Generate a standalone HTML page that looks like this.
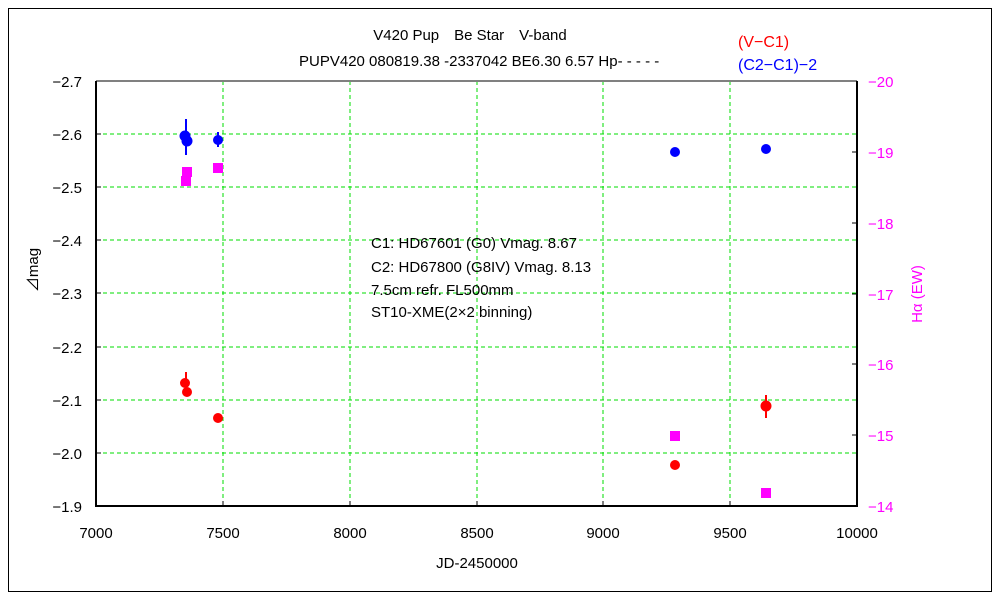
<!DOCTYPE html>
<html><head><style>
body{margin:0;background:#fff;}
svg text{font-family:"Liberation Sans","Noto Sans CJK JP",sans-serif;}
</style></head><body>
<svg width="1000" height="600" xmlns="http://www.w3.org/2000/svg">
<rect x="0" y="0" width="1000" height="600" fill="#fff"/>
<rect x="8.5" y="8.5" width="983" height="583" fill="none" stroke="#000" stroke-width="1"/>
<g stroke="#00dd00" stroke-dasharray="4,3" stroke-width="1">
<line x1="223" y1="81" x2="223" y2="506"/><line x1="350" y1="81" x2="350" y2="506"/>
<line x1="477" y1="81" x2="477" y2="506"/><line x1="603" y1="81" x2="603" y2="506"/>
<line x1="730" y1="81" x2="730" y2="506"/>
<line x1="96" y1="134" x2="857" y2="134"/><line x1="96" y1="187" x2="857" y2="187"/>
<line x1="96" y1="240" x2="857" y2="240"/><line x1="96" y1="293" x2="857" y2="293"/>
<line x1="96" y1="347" x2="857" y2="347"/><line x1="96" y1="400" x2="857" y2="400"/>
<line x1="96" y1="453" x2="857" y2="453"/>
</g>
<line x1="96" y1="81" x2="857" y2="81" stroke="#808080" stroke-width="2"/>
<g stroke="#000" stroke-width="2" fill="none">
<polyline points="96,81 96,506 857,506 857,81"/>
</g>
<g stroke="#000" stroke-width="1">
<line x1="96" y1="134" x2="101" y2="134"/><line x1="96" y1="187" x2="101" y2="187"/><line x1="96" y1="240" x2="101" y2="240"/><line x1="96" y1="293" x2="101" y2="293"/><line x1="96" y1="347" x2="101" y2="347"/><line x1="96" y1="400" x2="101" y2="400"/><line x1="96" y1="453" x2="101" y2="453"/>
<line x1="852" y1="152" x2="857" y2="152"/><line x1="852" y1="223" x2="857" y2="223"/><line x1="852" y1="294" x2="857" y2="294"/><line x1="852" y1="364" x2="857" y2="364"/><line x1="852" y1="435" x2="857" y2="435"/>
<line x1="223" y1="506" x2="223" y2="501"/><line x1="350" y1="506" x2="350" y2="501"/><line x1="477" y1="506" x2="477" y2="501"/><line x1="603" y1="506" x2="603" y2="501"/><line x1="730" y1="506" x2="730" y2="501"/>
</g>
<g font-size="15" fill="#000" text-anchor="end">
<text x="82" y="87">−2.7</text><text x="82" y="140">−2.6</text><text x="82" y="193">−2.5</text><text x="82" y="246">−2.4</text><text x="82" y="299">−2.3</text><text x="82" y="353">−2.2</text><text x="82" y="406">−2.1</text><text x="82" y="459">−2.0</text><text x="82" y="512">−1.9</text>
</g>
<g font-size="15" fill="#000" text-anchor="middle">
<text x="96" y="538">7000</text><text x="223" y="538">7500</text><text x="350" y="538">8000</text><text x="477" y="538">8500</text><text x="603" y="538">9000</text><text x="730" y="538">9500</text><text x="857" y="538">10000</text>
<text x="477" y="568">JD-2450000</text>
</g>
<g font-size="15" fill="#ff00ff">
<text x="868" y="87">−20</text><text x="868" y="158">−19</text><text x="868" y="229">−18</text><text x="868" y="300">−17</text><text x="868" y="370">−16</text><text x="868" y="441">−15</text><text x="868" y="512">−14</text>
<text transform="translate(922,294) rotate(-90)" text-anchor="middle">Hα (EW)</text>
</g>
<text transform="translate(38,270) rotate(-90)" font-size="15" text-anchor="middle">⊿mag</text>
<text x="470" y="40" font-size="15" text-anchor="middle">V420 Pup　Be Star　V-band</text>
<text x="299" y="66" font-size="15">PUPV420 080819.38 -2337042 BE6.30 6.57 Hp- - - - -</text>
<text x="738" y="47" font-size="16" fill="#ff0000">(V−C1)</text>
<text x="738" y="70" font-size="16" fill="#0000ff">(C2−C1)−2</text>
<g font-size="15">
<text x="371" y="248">C1: HD67601 (G0) Vmag. 8.67</text>
<text x="371" y="272">C2: HD67800 (G8IV) Vmag. 8.13</text>
<text x="371" y="295">7.5cm refr. FL500mm</text>
<text x="371" y="317">ST10-XME(2×2 binning)</text>
</g>
<g fill="#ff00ff">
<rect x="181" y="176" width="10" height="10"/><rect x="182" y="167" width="10" height="10"/><rect x="213" y="163" width="10" height="10"/><rect x="670" y="431" width="10" height="10"/><rect x="761" y="488" width="10" height="10"/>
</g>
<g fill="#0000ff" stroke="#0000ff" stroke-width="2">
<line x1="186" y1="119" x2="186" y2="155"/><line x1="218" y1="132" x2="218" y2="147"/>
<circle cx="185" cy="136" r="4.5"/><circle cx="187" cy="141" r="4.5"/><circle cx="218" cy="140" r="4"/><circle cx="675" cy="152" r="4"/><circle cx="766" cy="149" r="4"/>
</g>
<g fill="#ff0000" stroke="#ff0000" stroke-width="2">
<line x1="186" y1="372" x2="186" y2="392"/><line x1="766" y1="395" x2="766" y2="418"/>
<circle cx="185" cy="383" r="4"/><circle cx="187" cy="392" r="4"/><circle cx="218" cy="418" r="4"/><circle cx="675" cy="465" r="4"/><circle cx="766" cy="406" r="4.5"/>
</g>
</svg>
</body></html>
